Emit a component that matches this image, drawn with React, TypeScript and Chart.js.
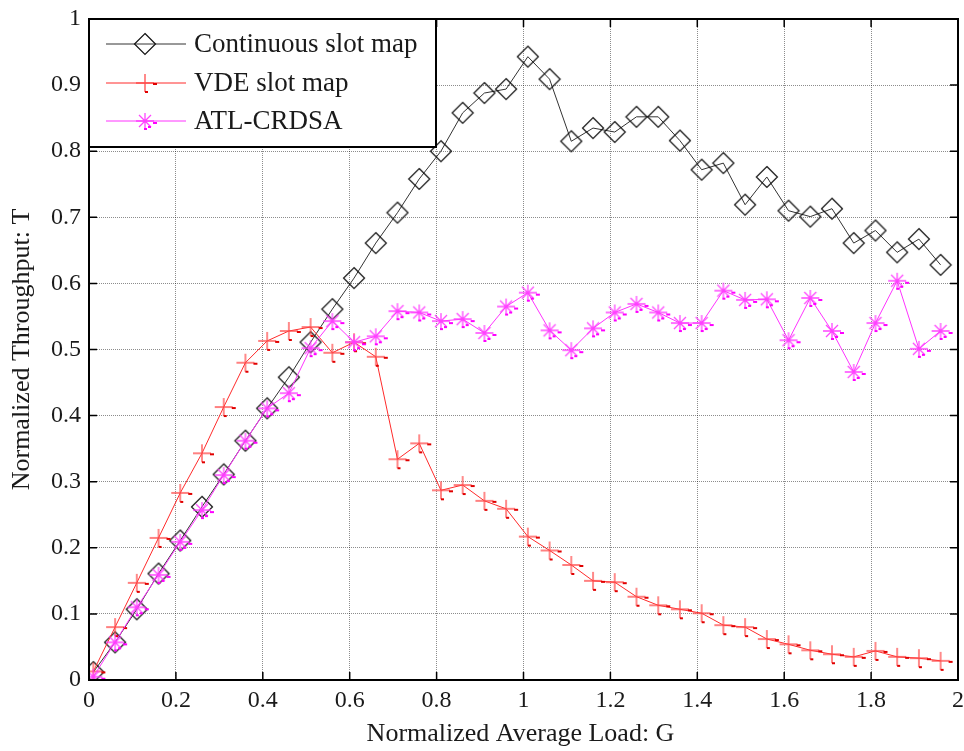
import React, { useEffect, useRef } from "react";
import { Chart, registerables } from "chart.js";

Chart.register(...registerables);

// ---------- data ----------
const loads = [
  0.01, 0.06, 0.11, 0.16, 0.21, 0.26, 0.31, 0.36, 0.41, 0.46,
  0.51, 0.56, 0.61, 0.66, 0.71, 0.76, 0.81, 0.86, 0.91, 0.96,
  1.01, 1.06, 1.11, 1.16, 1.21, 1.26, 1.31, 1.36, 1.41, 1.46,
  1.51, 1.56, 1.61, 1.66, 1.71, 1.76, 1.81, 1.86, 1.91, 1.96,
];

const continuousSlotMap = [
  0.012, 0.057, 0.107, 0.161, 0.211, 0.262, 0.311, 0.362, 0.411, 0.458,
  0.511, 0.561, 0.608, 0.661, 0.707, 0.758, 0.800, 0.858, 0.888, 0.894,
  0.943, 0.909, 0.815, 0.835, 0.829, 0.852, 0.852, 0.816, 0.772, 0.782,
  0.719, 0.761, 0.710, 0.701, 0.713, 0.661, 0.680, 0.647, 0.667, 0.628,
];

const vdeSlotMap = [
  0.013, 0.080, 0.147, 0.215, 0.283, 0.343, 0.413, 0.480, 0.513, 0.528,
  0.534, 0.495, 0.511, 0.489, 0.334, 0.358, 0.287, 0.295, 0.271, 0.259,
  0.217, 0.196, 0.174, 0.150, 0.148, 0.126, 0.113, 0.107, 0.101, 0.083,
  0.080, 0.062, 0.054, 0.045, 0.039, 0.035, 0.044, 0.035, 0.033, 0.029,
];

const atlCrdsa = [
  0.005, 0.057, 0.110, 0.159, 0.209, 0.257, 0.310, 0.362, 0.411, 0.434,
  0.502, 0.543, 0.511, 0.520, 0.558, 0.556, 0.543, 0.546, 0.525, 0.565,
  0.586, 0.529, 0.499, 0.532, 0.556, 0.569, 0.556, 0.540, 0.540, 0.589,
  0.575, 0.576, 0.514, 0.578, 0.528, 0.466, 0.540, 0.604, 0.501, 0.528,
];

const seriesNames = ["Continuous slot map", "VDE slot map", "ATL-CRDSA"];
const xTickValues = [0, 0.2, 0.4, 0.6, 0.8, 1, 1.2, 1.4, 1.6, 1.8, 2];
const yTickValues = [0, 0.1, 0.2, 0.3, 0.4, 0.5, 0.6, 0.7, 0.8, 0.9, 1];
const xTitle = "Normalized Average Load: G";
const yTitle = "Normalized Throughput: T";

// ---------- styles ----------
const FONT = "'Liberation Serif', 'Times New Roman', serif";
const TEXT = "#1a1a1a";

function makeDiamond(): HTMLCanvasElement {
  const c = document.createElement("canvas");
  c.width = 24;
  c.height = 24;
  const g = c.getContext("2d")!;
  g.strokeStyle = "#111";
  g.lineWidth = 1.2;
  g.beginPath();
  g.moveTo(12, 1.5);
  g.lineTo(22.5, 12);
  g.lineTo(12, 22.5);
  g.lineTo(1.5, 12);
  g.closePath();
  g.stroke();
  return c;
}

function makeCross(): HTMLCanvasElement {
  const c = document.createElement("canvas");
  c.width = 28;
  c.height = 28;
  const g = c.getContext("2d")!;
  const m = 14;
  g.strokeStyle = "rgba(255,70,70,0.9)";
  g.lineWidth = 1.4;
  g.beginPath();
  g.moveTo(m - 9, m);
  g.lineTo(m + 9, m);
  g.moveTo(m, m - 9);
  g.lineTo(m, m + 9);
  g.stroke();
  g.fillStyle = "#e00000";
  g.fillRect(m + 8, m, 4, 2);
  g.fillRect(m, m + 8, 3, 2);
  return c;
}

function makeStar(): HTMLCanvasElement {
  const c = document.createElement("canvas");
  c.width = 28;
  c.height = 28;
  const g = c.getContext("2d")!;
  const m = 14;
  g.strokeStyle = "rgba(255,60,255,0.95)";
  g.lineWidth = 1.3;
  g.beginPath();
  g.moveTo(m - 9, m);
  g.lineTo(m + 9, m);
  g.moveTo(m, m - 8);
  g.lineTo(m, m + 8);
  const d = 6;
  g.moveTo(m - d, m - d);
  g.lineTo(m + d, m + d);
  g.moveTo(m - d, m + d);
  g.lineTo(m + d, m - d);
  g.stroke();
  g.fillStyle = "#ff00ff";
  g.fillRect(m + 8, m + 1, 4, 2);
  g.fillRect(m - 1, m + 7, 3, 2);
  g.fillRect(m + 3, m + 5, 3, 2);
  return c;
}

function toPoints(ys: number[]) {
  return loads.map((x, i) => ({ x, y: ys[i] }));
}

const frameAndLegend = {
  id: "frameAndLegend",
  afterDraw(chart: any) {
    const { ctx, chartArea, scales } = chart;
    const { left, right, top, bottom } = chartArea;
    const xs = scales.x;
    const ys = scales.y;
    ctx.save();

    // frame
    ctx.strokeStyle = "#000";
    ctx.lineWidth = 2;
    ctx.strokeRect(left, top, right - left, bottom - top);

    // inward ticks
    ctx.lineWidth = 1.5;
    ctx.beginPath();
    const tl = 8;
    xTickValues.forEach((v) => {
      const px = xs.getPixelForValue(v);
      ctx.moveTo(px, bottom);
      ctx.lineTo(px, bottom - tl);
      ctx.moveTo(px, top);
      ctx.lineTo(px, top + tl);
    });
    yTickValues.forEach((v) => {
      const py = ys.getPixelForValue(v);
      ctx.moveTo(left, py);
      ctx.lineTo(left + tl, py);
      ctx.moveTo(right, py);
      ctx.lineTo(right - tl, py);
    });
    ctx.stroke();

    // legend box
    const lx = left;
    const ly = top;
    const lw = 347;
    const lh = 128;
    ctx.fillStyle = "#fff";
    ctx.fillRect(lx, ly, lw, lh);
    ctx.strokeStyle = "#000";
    ctx.lineWidth = 2;
    ctx.strokeRect(lx, ly, lw, lh);

    const rows = [25, 64, 102];
    chart.data.datasets.forEach((ds: any, i: number) => {
      const ry = ly + rows[i];
      ctx.strokeStyle = ds.borderColor;
      ctx.lineWidth = 1;
      ctx.beginPath();
      ctx.moveTo(lx + 17, ry);
      ctx.lineTo(lx + 97, ry);
      ctx.stroke();
      const img = ds.pointStyle as HTMLCanvasElement;
      ctx.drawImage(img, lx + 56 - img.width / 2, ry - img.height / 2);
      ctx.fillStyle = TEXT;
      ctx.font = `27px ${FONT}`;
      ctx.textAlign = "left";
      ctx.textBaseline = "middle";
      ctx.fillText(ds.label, lx + 105, ry + 1);
    });

    // axis titles
    ctx.fillStyle = TEXT;
    ctx.font = `26px ${FONT}`;
    ctx.textAlign = "center";
    ctx.textBaseline = "middle";
    ctx.fillText(xTitle, (left + right) / 2 - 3, 734);
    ctx.save();
    ctx.translate(22, (top + bottom) / 2);
    ctx.rotate(-Math.PI / 2);
    ctx.fillText(yTitle, 0, 0);
    ctx.restore();

    ctx.restore();
  },
};

export default function App() {
  const ref = useRef<HTMLCanvasElement | null>(null);

  useEffect(() => {
    if (!ref.current) return;
    const diamond = makeDiamond();
    const cross = makeCross();
    const star = makeStar();

    const chart = new Chart(ref.current, {
      type: "scatter",
      data: {
        datasets: [
          {
            label: seriesNames[0],
            data: toPoints(continuousSlotMap),
            showLine: true,
            borderColor: "#333333",
            borderWidth: 1,
            pointStyle: diamond as any,
            pointRadius: 10,
            order: 3,
          },
          {
            label: seriesNames[1],
            data: toPoints(vdeSlotMap),
            showLine: true,
            borderColor: "#ff2a2a",
            borderWidth: 1,
            pointStyle: cross as any,
            pointRadius: 10,
            order: 2,
          },
          {
            label: seriesNames[2],
            data: toPoints(atlCrdsa),
            showLine: true,
            borderColor: "#ff33ff",
            borderWidth: 1,
            pointStyle: star as any,
            pointRadius: 10,
            order: 1,
          },
        ],
      },
      options: {
        animation: false,
        responsive: false,
        devicePixelRatio: 1,
        layout: { autoPadding: false, padding: { left: 0, top: 19, right: 6, bottom: 0 } },
        plugins: {
          legend: { display: false },
          tooltip: { enabled: false },
          title: { display: false },
        },
        scales: {
          x: {
            type: "linear",
            min: 0,
            max: 2,
            afterBuildTicks: (s: any) => {
              s.ticks = xTickValues.map((v) => ({ value: v }));
            },
            afterFit: (s: any) => {
              s.height = 71;
              s.paddingRight = 0;
              s.paddingLeft = 0;
            },
            ticks: {
              color: TEXT,
              font: { family: FONT, size: 24 },
              padding: 6,
              maxRotation: 0,
              callback: (v: any) => String(Math.round(Number(v) * 10) / 10),
            },
            grid: {
              color: "rgba(0,0,0,0.45)",
              lineWidth: 1,
              drawTicks: false,
            },
            border: { display: false, dash: [1, 1] },
          },
          y: {
            type: "linear",
            min: 0,
            max: 1,
            afterBuildTicks: (s: any) => {
              s.ticks = yTickValues.map((v) => ({ value: v }));
            },
            afterFit: (s: any) => {
              s.width = 89;
              s.paddingTop = 0;
              s.paddingBottom = 0;
            },
            ticks: {
              color: TEXT,
              font: { family: FONT, size: 24 },
              padding: 8,
              callback: (v: any) => String(Math.round(Number(v) * 10) / 10),
            },
            grid: {
              color: "rgba(0,0,0,0.45)",
              lineWidth: 1,
              drawTicks: false,
            },
            border: { display: false, dash: [1, 1] },
          },
        },
      },
      plugins: [frameAndLegend],
    });
    return () => chart.destroy();
  }, []);

  return (
    <div style={{ position: "absolute", left: 0, top: 0, width: 964, height: 751, background: "#fff" }}>
      <canvas ref={ref} width={964} height={751} style={{ display: "block" }} />
    </div>
  );
}
